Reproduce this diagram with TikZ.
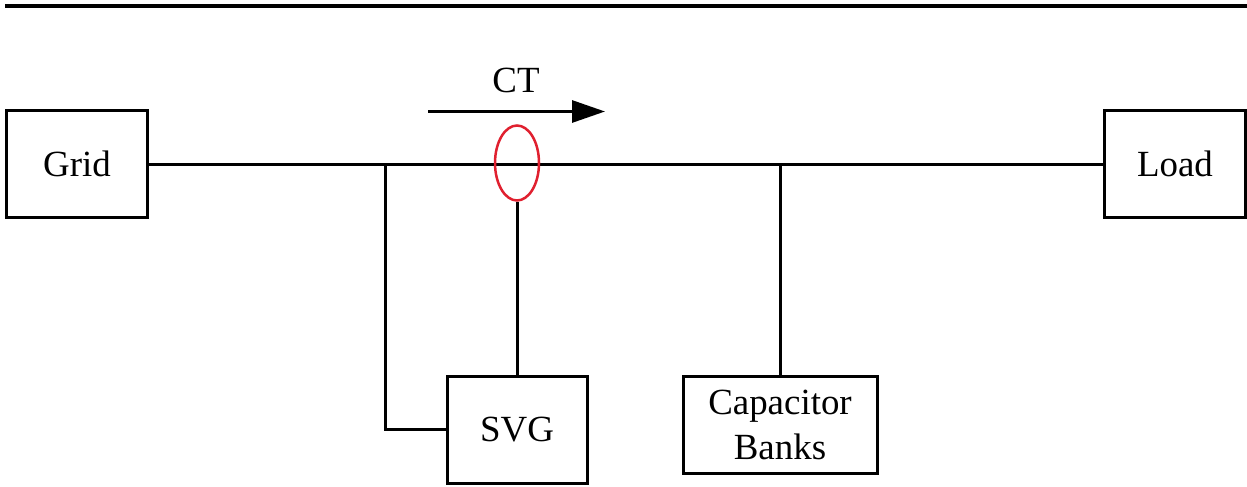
\documentclass[tikz,border=0pt]{standalone}
\usepackage{fontspec}
\setmainfont{Liberation Serif}
\usetikzlibrary{arrows.meta,shapes.geometric}
\definecolor{ctred}{RGB}{224,32,47}
\tikzset{
unit/.style={draw,line width=0.06cm,inner sep=0pt,font=\fontsize{21}{25.6}\selectfont,align=center},
bus/.style={line width=0.06cm},
}
\begin{document}
\begin{tikzpicture}
\useasboundingbox (0,0) rectangle (24.94,9.72);

\coordinate (ruleL) at (0.1,9.6);
\coordinate (ruleR) at (24.94,9.6);
\draw[line width=0.07cm] (ruleL) -- (ruleR);

\node[unit,minimum width=2.82cm,minimum height=2.12cm] (grid) at (1.54,6.44) {Grid};
\node[unit,minimum width=2.82cm,minimum height=2.12cm] (load) at (23.5,6.44) {Load};
\node[unit,minimum width=2.8cm,minimum height=2.14cm] (svg) at (10.34,1.13) {SVG};
\node[unit,minimum width=3.88cm,minimum height=1.94cm] (cap) at (15.6,1.23) {Capacitor\\Banks};

\draw[bus] (grid) -- (load);

\node[draw=ctred,line width=0.05cm,ellipse,inner sep=0pt,minimum width=0.88cm,minimum height=1.5cm] (ct) at (10.34,6.46) {};
\draw[bus] (ct.south) -- (svg.north);
\draw[bus] (cap.north) -- (cap.north |- grid.east);

\coordinate (tap) at (7.7,6.44);
\draw[bus] (tap) |- (svg.west);

\coordinate (arrowL) at (8.56,7.49);
\coordinate (arrowR) at (12.1,7.49);
\draw[bus,-{Triangle[length=0.66cm,width=0.44cm]}] (arrowL) -- (arrowR);
\node[font=\fontsize{21}{25}\selectfont] (ctlabel) at (10.32,8.12) {CT};
\end{tikzpicture}
\end{document}
